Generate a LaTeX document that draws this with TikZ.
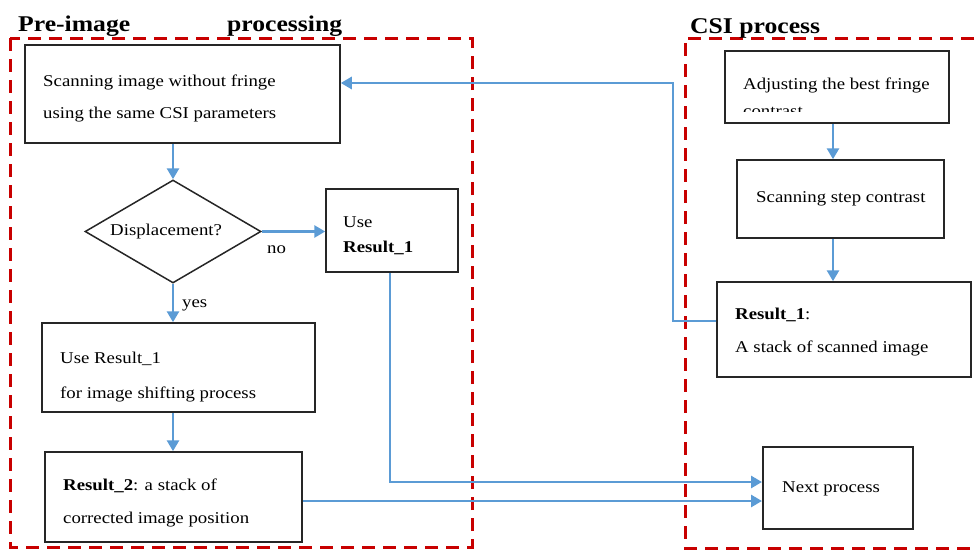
\documentclass[tikz,border=0pt]{standalone}
\usepackage{fontspec}
\setmainfont[FakeStretch=1.14]{Liberation Serif}
\usetikzlibrary{shapes.geometric,arrows.meta,calc}
\definecolor{flowblue}{HTML}{5B9BD5}
\definecolor{groupred}{HTML}{C80000}
\begin{document}
\begin{tikzpicture}[x=1pt,y=-1pt,
 box/.style={draw=black!85,line width=1.5pt,rectangle,inner sep=0pt},
 decision/.style={draw=black!85,line width=1.5pt,diamond,inner sep=0pt},
 txt/.style={anchor=base west,inner sep=0pt,font=\fontsize{16.5}{20}\selectfont},
 grouptitle/.style={anchor=base west,inner sep=0pt,font=\fontsize{22.5}{26}\selectfont\bfseries},
 flow/.style={draw=flowblue,line width=2.8pt,-{Triangle[length=11pt,width=12pt]}},
 group/.style={draw=groupred,line width=3pt,dash pattern=on 13pt off 8pt}]
\useasboundingbox (0,0) rectangle (977,549);

% group frames
\draw[group] (10,38) rectangle (472,547);
\draw[group] (995,38) -- (685,38) -- (685,548) -- (995,548);
\node[grouptitle] (t1) at (18,31) {Pre-image};
\node[grouptitle] (t2) at (227,31) {processing};
\node[grouptitle] (t3) at (690,33) {CSI process};

% boxes
\node[box,minimum width=315pt,minimum height=98pt] (scan) at (182.5,94) {};
\node[decision,minimum width=176pt,minimum height=103pt] (dia) at (173,231.5) {};
\node[box,minimum width=132pt,minimum height=83pt] (use) at (392,230.5) {};
\node[box,minimum width=273pt,minimum height=89pt] (shift) at (178.5,367.5) {};
\node[box,minimum width=257pt,minimum height=90pt] (res2) at (173.5,497) {};
\node[box,minimum width=150pt,minimum height=82pt] (next) at (838,488) {};
\node[box,minimum width=224pt,minimum height=72pt] (adjust) at (837,87) {};
\node[box,minimum width=207pt,minimum height=78pt] (stepc) at (840.5,199) {};
\node[box,minimum width=254pt,minimum height=95pt] (res1) at (844,329.5) {};

% texts
\node[txt] (s1) at (43,86) {Scanning image without fringe};
\node[txt] (s2) at (43,118) {using the same CSI parameters};
\node[txt] (d1) at (110,235) {Displacement?};
\node[txt] (no) at (267,253) {no};
\node[txt] (u1) at (343,227) {Use};
\node[txt] (u2) at (343,252) {\bfseries Result\_1};
\node[txt] (yes) at (182,307) {yes};
\node[txt] (h1) at (60,363) {Use Result\_1};
\node[txt] (h2) at (60,398) {for image shifting process};
\node[txt] (r21) at (63,490) {\bfseries Result\_2\mdseries: a stack of};
\node[txt] (r22) at (63,523) {corrected image position};
\node[txt] (a1) at (743,89) {Adjusting the best fringe};
\begin{scope}
\clip (725,51) rectangle (949,111);
\node[txt] (a2) at (743,116) {contrast};
\end{scope}
\node[txt] (b1) at (756,202) {Scanning step contrast};
\node[txt] (c1) at (735,319) {\bfseries Result\_1\mdseries:};
\node[txt] (c2) at (735,352) {A stack of scanned image};
\node[txt] (n1) at (782,492) {Next process};

% connectors
\coordinate (csix) at (833,0);
\coordinate (turn) at (673,83);
\coordinate (in1) at (762,482);
\coordinate (in2) at (762,501);
\draw[flow] (dia.north |- scan.south) -- (dia.north);
\draw[flow] (dia.east) -- (use.west |- dia.east);
\draw[flow] (dia.south) -- (dia.south |- shift.north);
\draw[flow] (dia.south |- shift.south) -- (dia.south |- res2.north);
\draw[flow] (use.south -| 390,0) |- (in1);
\draw[flow] (res2.east |- in2) -- (in2);
\draw[flow] (adjust.south -| csix) -- (stepc.north -| csix);
\draw[flow] (stepc.south -| csix) -- (res1.north -| csix);
\draw[flow] (res1.west |- 0,321) -| (turn) -- (turn -| scan.east);
\end{tikzpicture}
\end{document}
